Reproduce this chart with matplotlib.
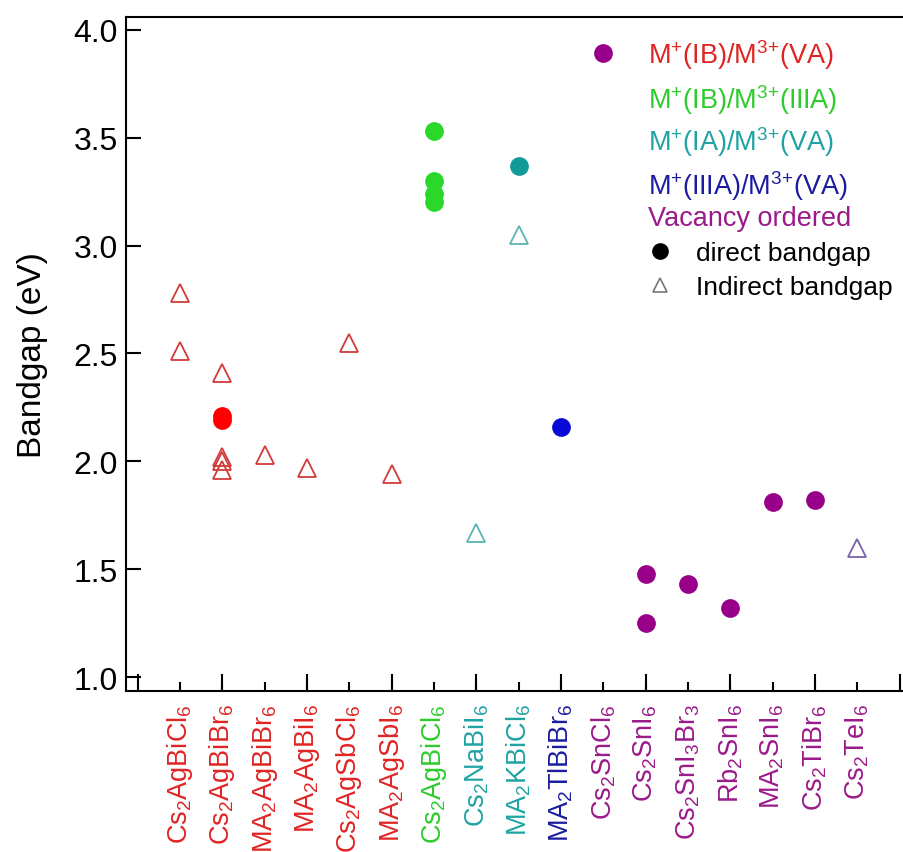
import matplotlib
matplotlib.use("Agg")
import matplotlib.pyplot as plt
import numpy as np
from matplotlib.lines import Line2D

plt.rcParams['font.family'] = ['Liberation Sans', 'DejaVu Sans']

# compounds along the x axis
categories = [r'Cs$\mathregular{_2}$AgBiCl$\mathregular{_6}$',
              r'Cs$\mathregular{_2}$AgBiBr$\mathregular{_6}$',
              r'MA$\mathregular{_2}$AgBiBr$\mathregular{_6}$',
              r'MA$\mathregular{_2}$AgBiI$\mathregular{_6}$',
              r'Cs$\mathregular{_2}$AgSbCl$\mathregular{_6}$',
              r'MA$\mathregular{_2}$AgSbI$\mathregular{_6}$',
              r'Cs$\mathregular{_2}$AgBiCl$\mathregular{_6}$',
              r'Cs$\mathregular{_2}$NaBiI$\mathregular{_6}$',
              r'MA$\mathregular{_2}$KBiCl$\mathregular{_6}$',
              r'MA$\mathregular{_2}$TlBiBr$\mathregular{_6}$',
              r'Cs$\mathregular{_2}$SnCl$\mathregular{_6}$',
              r'Cs$\mathregular{_2}$SnI$\mathregular{_6}$',
              r'Cs$\mathregular{_2}$SnI$\mathregular{_3}$Br$\mathregular{_3}$',
              r'Rb$\mathregular{_2}$SnI$\mathregular{_6}$',
              r'MA$\mathregular{_2}$SnI$\mathregular{_6}$',
              r'Cs$\mathregular{_2}$TiBr$\mathregular{_6}$',
              r'Cs$\mathregular{_2}$TeI$\mathregular{_6}$']

groups = ['IB/VA'] * 6 + ['IB/IIIA'] + ['IA/VA'] * 2 + ['IIIA/VA'] + ['vacancy'] * 7

# bandgaps (eV)
direct = [[], [2.21, 2.19], [], [], [], [],
          [3.53, 3.30, 3.24, 3.20], [], [3.37], [2.16],
          [3.89], [1.48, 1.25], [1.43], [1.32], [1.81], [1.82], []]
indirect = [[2.78, 2.51], [2.41, 2.02, 2.00, 1.96], [2.03], [1.97], [2.55], [1.94],
            [], [1.67], [3.05], [],
            [], [], [], [], [], [], [1.60]]

group_names = ['IB/VA', 'IB/IIIA', 'IA/VA', 'IIIA/VA', 'vacancy']
group_labels = [r'M$\mathregular{^{+}}$(IB)/M$\mathregular{^{3{+}}}$(VA)',
                r'M$\mathregular{^{+}}$(IB)/M$\mathregular{^{3{+}}}$(IIIA)',
                r'M$\mathregular{^{+}}$(IA)/M$\mathregular{^{3{+}}}$(VA)',
                r'M$\mathregular{^{+}}$(IIIA)/M$\mathregular{^{3{+}}}$(VA)',
                'Vacancy ordered']
text_colors = {'IB/VA': '#e02424', 'IB/IIIA': '#2ccc2c', 'IA/VA': '#1fa3a3',
               'IIIA/VA': '#1c1ca0', 'vacancy': '#9a1a8a'}
dot_colors = {'IB/VA': '#ff0000', 'IB/IIIA': '#2ad82a', 'IA/VA': '#129a9a',
              'IIIA/VA': '#0a0ad8', 'vacancy': '#98008a'}
tri_colors = {'IB/VA': '#d23a3a', 'IB/IIIA': '#2ad82a', 'IA/VA': '#5cb4b4',
              'IIIA/VA': '#0a0ad8', 'vacancy': '#7a62a8'}

fig = plt.figure(figsize=(9.04, 8.53), dpi=100)
ax = fig.add_axes([126 / 904, 1 - 691.7 / 853, 782 / 904, (691.7 - 18.3) / 853])

positions = np.arange(1, len(categories) + 1)
for pos, g, dv, iv in zip(positions, groups, direct, indirect):
    ax.plot([pos] * len(iv), iv, '^', ms=12.5, mfc='none', mec=tri_colors[g], mew=1.3)
    ax.plot([pos] * len(dv), dv, 'o', ms=13.5, color=dot_colors[g], mec='none')

ax.set_xlim(-0.28, 18.2)
ax.set_ylim(0.938, 4.057)

ax.set_yticks(np.arange(1.0, 4.01, 0.5))
ax.set_yticklabels(['%.1f' % v for v in np.arange(1.0, 4.01, 0.5)])
ax.tick_params(axis='y', direction='in', length=11, width=1.5, labelsize=23, pad=6)

ax.set_xticks(positions)
ax.set_xticklabels(categories, rotation=90)
ax.set_xticks(np.arange(0, 19, 2), minor=True)
ax.xaxis.remove_overlapping_locs = False
ax.tick_params(axis='x', which='major', direction='in', length=6.5, width=1.5,
               labelsize=19.5, pad=9)
ax.tick_params(axis='x', which='minor', direction='in', length=12, width=1.5)
for lbl, g in zip(ax.get_xticklabels(), groups):
    lbl.set_color(text_colors[g])

for s in ax.spines.values():
    s.set_linewidth(1.5)
ax.spines['right'].set_visible(False)

ax.set_ylabel('Bandgap (eV)', fontsize=24)
ax.yaxis.set_label_coords(-0.10, 0.5)

# group colour key
text_y = [0.945, 0.878, 0.816, 0.751, 0.702]
for name, label, ty in zip(group_names, group_labels, text_y):
    ax.text(0.668, ty, label, transform=ax.transAxes, fontsize=19.5,
            color=text_colors[name], va='center', ha='left')

handles = [Line2D([], [], ls='none', marker='o', ms=11, color='black'),
           Line2D([], [], ls='none', marker='^', ms=10, mfc='none', mec='#777777', mew=1.2)]
ax.legend(handles, ['direct bandgap', 'Indirect bandgap'], loc='upper left',
          bbox_to_anchor=(0.666, 0.668), frameon=False, fontsize=19,
          handlelength=1.0, handletextpad=0.85, labelspacing=0.4,
          borderpad=0, borderaxespad=0)

fig.savefig('out.png', dpi=100)
